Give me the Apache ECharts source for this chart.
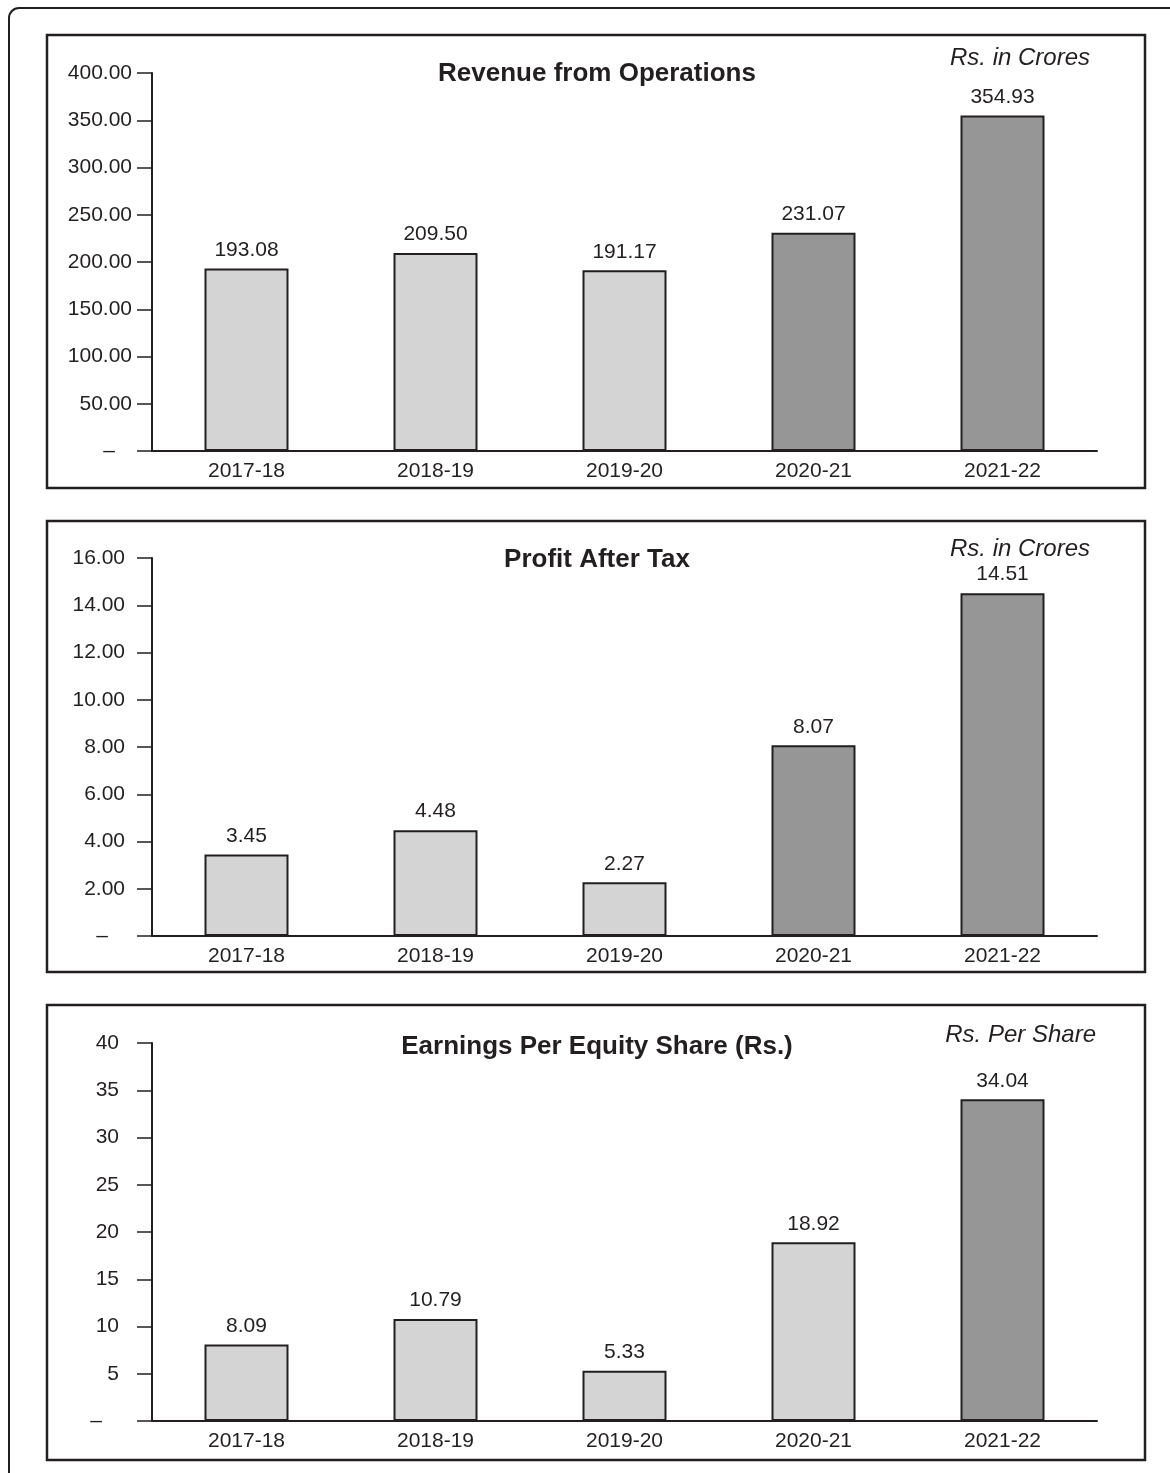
<!DOCTYPE html>
<html>
<head>
<meta charset="utf-8">
<script src="https://cdn.jsdelivr.net/npm/echarts@6/dist/echarts.min.js"></script>
<style>
html,body{margin:0;padding:0;background:#fff;}
#c{width:1170px;height:1473px;}
</style>
</head>
<body>
<div id="c"></div>
<script>
const categories = ['2017-18', '2018-19', '2019-20', '2020-21', '2021-22'];
const revenue = [193.08, 209.50, 191.17, 231.07, 354.93];
const pat = [3.45, 4.48, 2.27, 8.07, 14.51];
const eps = [8.09, 10.79, 5.33, 18.92, 34.04];
const revenueShade = ['light', 'light', 'light', 'dark', 'dark'];
const patShade = ['light', 'light', 'light', 'dark', 'dark'];
const epsShade = ['light', 'light', 'light', 'light', 'dark'];
const titles = ['Revenue from Operations', 'Profit After Tax', 'Earnings Per Equity Share (Rs.)'];
const units = ['Rs. in Crores', 'Rs. in Crores', 'Rs. Per Share'];

const LIGHT = '#d4d4d4', DARK = '#969696', INK = '#231f20';
const FONT = '"Liberation Sans", Arial, sans-serif';

const chart = echarts.init(document.getElementById('c'));

const grids = [
  {left: 152, right: 73, top: 73, bottom: 1022},
  {left: 152, right: 73, top: 558, bottom: 537},
  {left: 152, right: 73, top: 1043, bottom: 52}
];
const yCfg = [
  {max: 400, interval: 50, dec: 2, margin: 20},
  {max: 16, interval: 2, dec: 2, margin: 27},
  {max: 40, interval: 5, dec: 0, margin: 33}
];
const datasets = [revenue, pat, eps];
const shades = [revenueShade, patShade, epsShade];

const xAxis = grids.map((g, i) => ({
  type: 'category', gridIndex: i, data: categories,
  axisLine: {show: true, lineStyle: {color: INK, width: 2}},
  axisTick: {show: false},
  axisLabel: {color: INK, fontSize: 21, fontFamily: FONT, margin: 10}
}));
const yAxis = yCfg.map((c, i) => ({
  type: 'value', gridIndex: i, min: 0, max: c.max, interval: c.interval,
  splitLine: {show: false},
  axisLine: {show: true, lineStyle: {color: INK, width: 2}},
  axisTick: {show: true, length: 15, lineStyle: {color: INK, width: 1.5}},
  axisLabel: {
    color: INK, fontSize: 21, fontFamily: FONT, margin: c.margin,
    formatter: v => v === 0 ? '{z|–}' : v.toFixed(c.dec),
    rich: {z: {fontSize: 21, fontFamily: FONT, color: INK, padding: [0, 17, 0, 0]}}
  }
}));
const series = datasets.map((d, i) => ({
  type: 'bar', xAxisIndex: i, yAxisIndex: i, barWidth: 84,
  data: d.map((v, k) => ({
    value: v,
    itemStyle: {color: shades[i][k] === 'dark' ? DARK : LIGHT, borderColor: INK, borderWidth: 2}
  })),
  label: {
    show: true, position: 'top', distance: 8, color: INK, fontSize: 21, fontFamily: FONT,
    formatter: p => p.value.toFixed(2)
  },
  silent: true
}));

const panels = [[47, 35, 1098, 453], [47, 521, 1098, 451], [47, 1005, 1098, 455]];
const titleY = [74, 560, 1047];
const unitY = [58, 549, 1035];
const unitX = [1090, 1090, 1096];
const graphic = [
  {type: 'rect', shape: {x: 9, y: 8, width: 1200, height: 1520, r: 10}, style: {fill: 'none', stroke: INK, lineWidth: 2}, z: -1}
];
panels.forEach((p, i) => {
  graphic.push({type: 'rect', shape: {x: p[0], y: p[1], width: p[2], height: p[3]}, style: {fill: 'none', stroke: INK, lineWidth: 2.5}});
  graphic.push({type: 'text', x: 597, y: titleY[i], style: {text: titles[i], fill: INK, font: 'bold 26px ' + FONT, textAlign: 'center', textVerticalAlign: 'middle'}});
  graphic.push({type: 'text', x: unitX[i], y: unitY[i], style: {text: units[i], fill: INK, font: 'italic 24px ' + FONT, textAlign: 'right', textVerticalAlign: 'middle'}});
});

chart.setOption({
  animation: false,
  backgroundColor: '#fff',
  grid: grids,
  xAxis: xAxis,
  yAxis: yAxis,
  series: series,
  graphic: graphic
});
</script>
</body>
</html>
